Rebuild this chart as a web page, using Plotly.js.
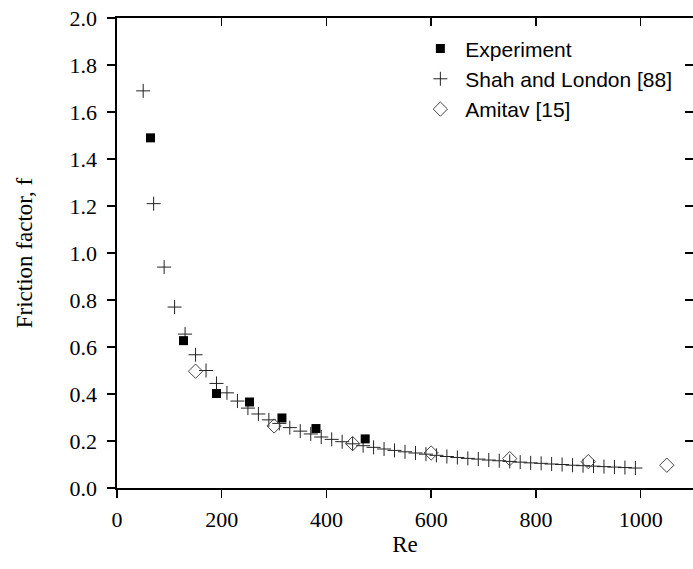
<!DOCTYPE html>
<html>
<head>
<meta charset="utf-8">
<script src="https://cdn.plot.ly/plotly-3.0.1.min.js"></script>
<style>html,body{margin:0;padding:0;background:#fff;}#chart{width:693px;height:569px;}</style>
</head>
<body>
<div id="chart"></div>
<script>
// Experiment
const expRe = [64, 127, 190, 253, 315, 380, 474];
const expF  = [1.49, 0.627, 0.402, 0.366, 0.298, 0.253, 0.209];

// Shah and London [88]
const shahRe = [50, 70, 90, 110, 130, 150, 170, 190, 210, 230, 250, 270, 290, 310, 330, 350, 370, 390,
                410, 430, 450, 470, 490, 510, 530, 550, 570, 590, 610, 630, 650, 670, 690, 710, 730, 750,
                770, 790, 810, 830, 850, 870, 890, 910, 930, 950, 970, 990];
const shahF  = [1.69, 1.21, 0.94, 0.77, 0.655, 0.567, 0.50, 0.445, 0.405, 0.37, 0.34, 0.315, 0.29, 0.275,
                0.257, 0.242, 0.23, 0.217, 0.207, 0.197, 0.188, 0.18, 0.173, 0.166, 0.16, 0.154, 0.149,
                0.144, 0.139, 0.134, 0.130, 0.126, 0.123, 0.119, 0.116, 0.113, 0.110, 0.107, 0.105, 0.102,
                0.100, 0.097, 0.095, 0.093, 0.091, 0.089, 0.087, 0.085];

// Amitav [15]
const amiRe = [150, 300, 450, 600, 750, 900, 1050];
const amiF  = [0.497, 0.264, 0.189, 0.149, 0.125, 0.112, 0.097];

const xTicks = [0, 200, 400, 600, 800, 1000];
const yTicks = [0.0, 0.2, 0.4, 0.6, 0.8, 1.0, 1.2, 1.4, 1.6, 1.8, 2.0];

const serif = 'Liberation Serif, Times New Roman, serif';
const sans = 'Liberation Sans, Arial, sans-serif';

const traces = [
  {x: shahRe, y: shahF, type: 'scatter', mode: 'markers', name: 'Shah and London [88]', legendrank: 2,
   marker: {symbol: 'cross-thin-open', size: 10, color: '#222', line: {width: 1, color: '#222'}}},
  {x: amiRe, y: amiF, type: 'scatter', mode: 'markers', name: 'Amitav [15]', legendrank: 3,
   marker: {symbol: 'diamond-open', size: 11, color: '#444', line: {width: 1, color: '#444'}}},
  {x: expRe, y: expF, type: 'scatter', mode: 'markers', name: 'Experiment', legendrank: 1,
   marker: {symbol: 'square', size: 9, color: '#000'}},
  {x: [null], y: [null], xaxis: 'x2', yaxis: 'y2', showlegend: false, hoverinfo: 'skip', mode: 'markers'}
];

const axCommon = {showline: true, linecolor: '#000', linewidth: 1.6, showgrid: false, zeroline: false,
  ticklen: 8, tickwidth: 1.5, tickcolor: '#000'};

const layout = {
  width: 693, height: 569,
  margin: {l: 117, r: 0, t: 18, b: 81},
  paper_bgcolor: '#fff', plot_bgcolor: '#fff',
  showlegend: true,
  legend: {x: 0.518, y: 0.978, xanchor: 'left', yanchor: 'top', bgcolor: 'rgba(0,0,0,0)',
    itemwidth: 40, font: {family: sans, size: 21, color: '#000'}, tracegroupgap: 0},
  xaxis: Object.assign({}, axCommon, {range: [0, 1100], tickmode: 'array', tickvals: xTicks,
    ticktext: xTicks.map(String), ticks: 'outside', ticklabelstandoff: 3,
    tickfont: {family: serif, size: 22, color: '#000'},
    title: {text: 'Re', font: {family: serif, size: 23, color: '#000'}, standoff: 4}}),
  yaxis: Object.assign({}, axCommon, {range: [0, 2.0], tickmode: 'array', tickvals: yTicks,
    ticktext: yTicks.map(v => v.toFixed(1)), ticks: 'outside',
    tickfont: {family: serif, size: 22, color: '#000'}, ticklabelstandoff: 6,
    title: {text: 'Friction factor, f', font: {family: serif, size: 23, color: '#000'}, standoff: 30}}),
  xaxis2: Object.assign({}, axCommon, {overlaying: 'x', side: 'top', range: [0, 1100], tickmode: 'array',
    tickvals: xTicks, ticks: 'inside', showticklabels: false}),
  yaxis2: Object.assign({}, axCommon, {overlaying: 'y', side: 'right', range: [0, 2.0], tickmode: 'array',
    tickvals: yTicks, ticks: 'inside', showticklabels: false})
};

Plotly.newPlot('chart', traces, layout, {staticPlot: true, displayModeBar: false});
</script>
</body>
</html>
